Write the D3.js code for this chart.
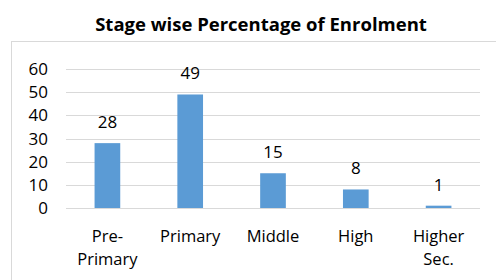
<!DOCTYPE html>
<html>
<head>
<meta charset="utf-8">
<script src="https://cdn.jsdelivr.net/npm/d3@7"></script>
<style>
  body { margin: 0; background: #fff; }
  text { font-family: "Open Sans", sans-serif; fill: #000; }
</style>
</head>
<body>
<svg id="chart" width="496" height="280"></svg>
<script>
// chart data
let stages = [["Pre-", "Primary"], ["Primary"], ["Middle"], ["High"], ["Higher", "Sec."]];
let percents = [28, 49, 15, 8, 1];
let yTicks = [0, 10, 20, 30, 40, 50, 60];

let width = 496;
let height = 280;
let plotLeft = 66, plotRight = 480, plotTop = 69, plotBottom = 208;
let barColor = "#5b9bd5";
let gridColor = "#d9d9d9";

let svg = d3.select("#chart");

// outer chart border
svg.append("rect")
  .attr("x", 11.5)
  .attr("y", 41.5)
  .attr("width", 490)
  .attr("height", 260)
  .style("fill", "none")
  .style("stroke", gridColor);

svg.append("text")
  .attr("x", 261)
  .attr("y", 30.5)
  .attr("text-anchor", "middle")
  .style("font-weight", "bold")
  .style("font-size", "18.5px")
  .text("Stage wise Percentage of Enrolment");

let x = d3.scaleBand()
  .domain(d3.range(stages.length))
  .range([plotLeft, plotRight])
  .paddingInner(0.69)
  .paddingOuter(0.345);

let y = d3.scaleLinear()
  .domain([0, 60])
  .range([plotBottom, plotTop]);

// gridlines + tick labels
svg.selectAll(".grid")
  .data(yTicks)
  .enter()
  .append("line")
  .attr("x1", plotLeft)
  .attr("x2", plotRight)
  .attr("y1", d => Math.round(y(d)) + 0.5)
  .attr("y2", d => Math.round(y(d)) + 0.5)
  .style("stroke", gridColor)
  .style("stroke-width", 1);

svg.selectAll(".ytick")
  .data(yTicks)
  .enter()
  .append("text")
  .attr("x", 48)
  .attr("y", d => y(d))
  .attr("dy", "0.36em")
  .attr("text-anchor", "end")
  .style("font-size", "17px")
  .text(d => d);

// bars
svg.selectAll(".bar")
  .data(percents)
  .enter()
  .append("rect")
  .attr("x", (d, i) => x(i))
  .attr("y", d => y(d))
  .attr("width", x.bandwidth())
  .attr("height", d => y(0) - y(d))
  .style("fill", barColor);

// value labels
svg.selectAll(".val")
  .data(percents)
  .enter()
  .append("text")
  .attr("x", (d, i) => x(i) + x.bandwidth()/2)
  .attr("y", d => y(d) - 15)
  .attr("text-anchor", "middle")
  .style("font-size", "17px")
  .text(d => d);

// category labels, wrapped onto two lines where needed
let cat = svg.selectAll(".cat")
  .data(stages)
  .enter()
  .append("text")
  .attr("text-anchor", "middle")
  .style("font-size", "16.5px");

cat.selectAll("tspan")
  .data((d, i) => d.map(s => ({s: s, i: i})))
  .enter()
  .append("tspan")
  .attr("x", d => x(d.i) + x.bandwidth()/2)
  .attr("y", (d, j) => 241.5 + j*23)
  .text(d => d.s);
</script>
</body>
</html>
